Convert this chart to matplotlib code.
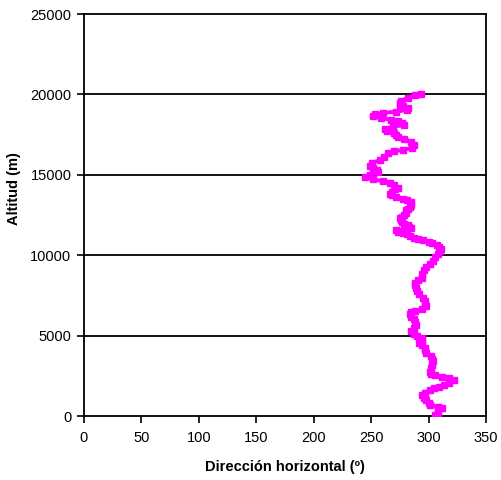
import matplotlib
matplotlib.use("Agg")
import matplotlib.pyplot as plt

# ---------- DATA ----------
altitud = [
    60, 200, 370, 480, 580, 690, 800, 1000, 1150, 1310, 1450, 1600, 1720, 1830,
    1930, 2080, 2240, 2340, 2450, 2520, 2600, 2760, 2990, 3200, 3400, 3550, 3710,
    3920, 4080, 4230, 4400, 4540, 4700, 4850, 4950, 5100, 5270, 5450, 5680, 5850,
    6010, 6160, 6320, 6450, 6530, 6630, 6840, 7000, 7150, 7350, 7570, 7780, 7980,
    8150, 8290, 8450, 8600, 8830, 9050, 9250, 9450, 9660, 9870, 10070, 10250,
    10390, 10520, 10630, 10740, 10840, 10920, 11010, 11100, 11180, 11300, 11380,
    11460, 11550, 11590, 11690, 11780, 11860, 11960, 12070, 12200, 12310, 12400,
    12480, 12640, 12790, 12900, 13000, 13150, 13310, 13420, 13510, 13620, 13720,
    13820, 13950, 14100, 14180, 14350, 14510, 14600, 14720, 14850, 14990, 15190,
    15300, 15400, 15550, 15750, 15920, 16130, 16330, 16480, 16540, 16690, 16850,
    17060, 17230, 17370, 17500, 17600, 17720, 17850, 17990, 18100, 18200, 18330,
    18430, 18510, 18660, 18760, 18840, 18930, 19030, 19130, 19250, 19340, 19480,
    19610, 19780, 19940, 20050,
]
direccion = [
    306, 308, 308, 312, 308, 301, 300, 298, 296, 294, 297, 301, 305, 309,
    313, 318, 322, 318, 312, 306, 302, 301, 302, 303, 304, 303, 302,
    298, 297, 297, 294, 292, 294, 294, 290, 287, 285, 287, 289, 288,
    287, 285, 284, 285, 288, 294, 298, 297, 297, 295, 292, 290, 289,
    288, 288, 291, 294, 294, 296, 298, 301, 304, 306, 308, 310,
    311, 309, 307, 303, 300, 295, 291, 287, 284, 281, 278,
    273, 272, 279, 285, 283, 282, 279, 277, 276, 275, 277,
    279, 280, 280, 282, 284, 285, 285, 281, 278, 272, 268,
    266, 268, 271, 273, 270, 266, 260, 252, 245, 249, 256,
    255, 252, 249, 251, 258, 261, 265, 270, 278, 286, 287,
    285, 279, 273, 272, 270, 264, 262, 269, 279, 277, 273,
    267, 259, 252, 253, 260, 272, 281, 282, 278, 275, 275,
    276, 282, 288, 293,
]

x_ticks = [0, 50, 100, 150, 200, 250, 300, 350]
y_ticks = [0, 5000, 10000, 15000, 20000, 25000]

# ---------- PLOT ----------
plt.rcParams["font.family"] = ["Liberation Sans", "DejaVu Sans"]

fig = plt.figure(figsize=(5.02, 4.80), dpi=100)
ax = fig.add_axes([84 / 502, 64 / 480, 402 / 502, 402 / 480])

for y in y_ticks[1:-1]:
    ax.axhline(y, color="black", linewidth=1.3, zorder=1)

ax.plot(direccion, altitud, color="#FF00FF", linewidth=2.8,
        marker="s", markersize=3.8, zorder=3)

ax.set_xlim(0, 350)
ax.set_ylim(0, 25000)
ax.set_xticks(x_ticks)
ax.set_yticks(y_ticks)
ax.tick_params(direction="out", length=5, width=1.2, labelsize=10.5, pad=4)
ax.tick_params(axis="x", pad=6)

for s in ax.spines.values():
    s.set_linewidth(1.3)
    s.set_color("black")

ax.set_xlabel("Dirección horizontal (º)", fontsize=10.5, fontweight="bold")
ax.xaxis.set_label_coords(0.5, -44 / 402)
ax.set_ylabel("Altitud (m)", fontsize=10.5, fontweight="bold")
ax.yaxis.set_label_coords(-63 / 402, 0.565)

fig.savefig("out.png", dpi=100)
